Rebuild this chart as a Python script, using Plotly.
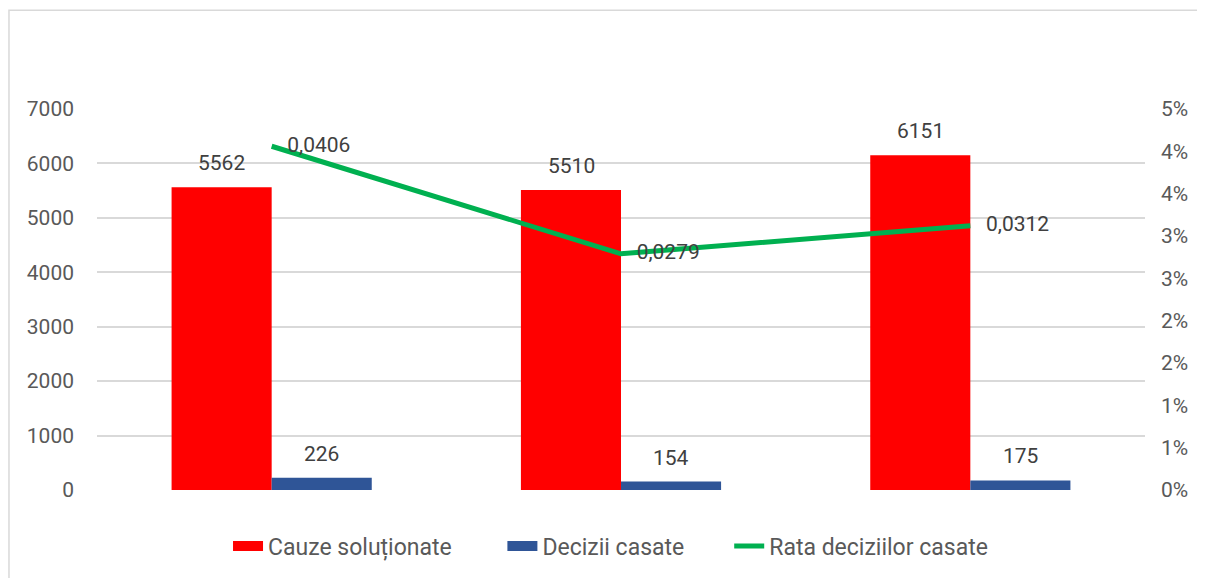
import plotly.graph_objects as go

categories = ["A", "B", "C"]
cauze = [5562, 5510, 6151]
decizii = [226, 154, 175]
rata = [0.0406, 0.0279, 0.0312]
rata_labels = ["0,0406", "0,0279", "0,0312"]
left_ticks = [0, 1000, 2000, 3000, 4000, 5000, 6000, 7000]
right_tickvals = [0, 0.005, 0.01, 0.015, 0.02, 0.025, 0.03, 0.035, 0.04, 0.045]
right_ticktext = ["0%", "1%", "1%", "2%", "2%", "3%", "3%", "4%", "4%", "5%"]
series_names = ["Cauze soluționate", "Decizii casate", "Rata deciziilor casate"]

RED = "#FF0000"
BLUE = "#2F5597"
GREEN = "#00B050"
FONT = "Roboto, Arial, sans-serif"
label_font = dict(family=FONT, size=21, color="#404040")
tick_font = dict(family=FONT, size=21, color="#595959")
NB = "\u00a0"

fig = go.Figure()
fig.add_trace(go.Bar(
    x=categories, y=cauze, name=series_names[0],
    marker=dict(color=RED, line=dict(width=0)), showlegend=False,
    legendgroup="c",
))
fig.add_trace(go.Bar(
    x=categories, y=decizii, name=series_names[1],
    marker=dict(color=BLUE, line=dict(width=0)), showlegend=False,
    legendgroup="d",
))
fig.add_trace(go.Scatter(
    x=categories, y=rata, name=series_names[2], yaxis="y2",
    mode="lines+text", line=dict(color=GREEN, width=5),
    text=["   " + t for t in rata_labels], textposition="middle right",
    textfont=label_font, cliponaxis=False, showlegend=False, legendgroup="r",
))
# legend entries drawn as wide swatches
fig.add_trace(go.Scatter(x=[None], y=[None], mode="lines", name=series_names[0] + NB * 8,
                         line=dict(color=RED, width=13), legendgroup="c"))
fig.add_trace(go.Scatter(x=[None], y=[None], mode="lines", name=series_names[1] + NB * 7,
                         line=dict(color=BLUE, width=13), legendgroup="d"))
fig.add_trace(go.Scatter(x=[None], y=[None], mode="lines", name=series_names[2],
                         line=dict(color=GREEN, width=5), legendgroup="r"))

annotations = []
for cat, v in zip(categories, cauze):
    annotations.append(dict(x=cat, y=v, xref="x", yref="y", text=str(v), showarrow=False,
                            xshift=-50, yshift=10, yanchor="bottom", font=label_font))
for cat, v in zip(categories, decizii):
    annotations.append(dict(x=cat, y=v, xref="x", yref="y", text=str(v), showarrow=False,
                            xshift=50, yshift=10, yanchor="bottom", font=label_font))

fig.update_layout(
    width=1197, height=570,
    margin=dict(l=89, r=60, t=101, b=87),
    paper_bgcolor="white", plot_bgcolor="white",
    barmode="group", bargap=0.427, bargroupgap=0,
    showlegend=True,
    legend=dict(
        orientation="h", x=0.490, xanchor="center", y=-0.144, yanchor="middle",
        font=dict(family=FONT, size=23, color="#595959"),
        itemwidth=30, traceorder="normal",
    ),
    annotations=annotations,
    xaxis=dict(showticklabels=False, showgrid=False, zeroline=False, showline=False,
               ticks=""),
    yaxis=dict(range=[0, 7000], tickvals=left_ticks, showgrid=True,
               gridcolor="#D9D9D9", gridwidth=1.5, zeroline=False, showline=False,
               tickfont=tick_font, ticklabelstandoff=22),
    yaxis2=dict(range=[0, 0.045], overlaying="y", side="right",
                tickvals=right_tickvals, ticktext=right_ticktext, showgrid=False,
                zeroline=False, showline=False, tickfont=tick_font,
                ticklabelstandoff=15),
    shapes=[dict(type="rect", xref="paper", yref="paper",
                 x0=-0.0840, x1=1.3, y0=1.259, y1=-0.4,
                 line=dict(color="#D9D9D9", width=1.5), fillcolor="rgba(0,0,0,0)",
                 layer="below")],
)

fig.write_html("out.html")
